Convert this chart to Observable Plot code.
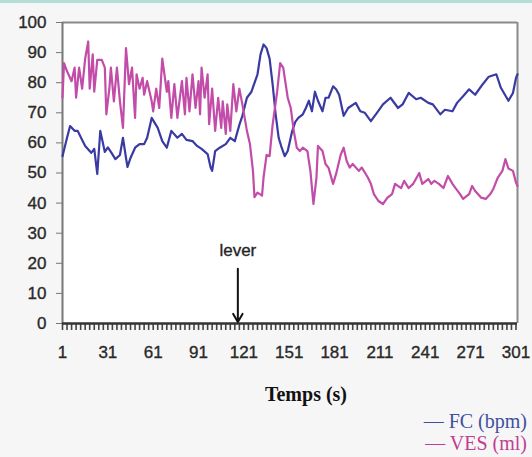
<!DOCTYPE html>
<html><head><meta charset="utf-8">
<script src="https://cdn.jsdelivr.net/npm/d3@7"></script>
<script src="https://cdn.jsdelivr.net/npm/@observablehq/plot@0.6"></script>
<style>
html,body{margin:0;padding:0;background:#f6f6f6;}
#wrap{position:relative;width:532px;height:457px;overflow:hidden;background:#f6f6f6;}
#topbar{position:absolute;left:0;top:0;width:532px;height:3px;background:#b3ded6;}
#xlabel{position:absolute;left:206px;width:200px;top:383px;text-align:center;font:bold 20px "Liberation Serif",serif;color:#111;}
.leg{position:absolute;right:5px;font:20px "Liberation Serif",serif;white-space:nowrap;line-height:22px;}
#chart svg text{stroke:currentColor;stroke-width:0.35px;}
</style></head><body>
<div id="wrap"><div id="chart"></div><div id="topbar"></div><div id="xlabel">Temps (s)</div>
<div class="leg" style="top:410px;color:#4050a0">— FC (bpm)</div>
<div class="leg" style="top:432px;color:#c23d93">— VES (ml)</div>
</div>
<script>
const fcTime = [1,4,6,9,11,14,16,20,22,24, 26,29,31,33,36,39,41,43,44,46, 49,52,55,57,60,64,67,70,73,77, 80,83,87,90,93,97,99,100,102,105, 109,112,115,118,120,123,126,130,132,134, 136,138,140,142,144,146,148,150,153,155, 157,160,162,164,166,168,170,173,175,177, 180,182,184,187,190,195,198,201,205,209, 213,218,223,226,230,235,238,243,246,251, 254,259,262,266,270,274,279,283,288,291, 296,299,301,302];
const fcValue = [55.6,61.7,65.6,64,64,61,59,56.7,58,49.7, 64,57,58.5,57,54.6,56,61.7,55,52,55, 58.4,59.6,59.6,61.7,68.3,65,60.6,58.4,64,61.7, 63,61,60.6,59,58,56.3,51.8,50.7,57.3,58.4, 59.6,61.7,60.6,66,69,75,77,82.8,89.4,92.7, 91.5,88,79.5,69.5,61.7,58.4,55.6,57.3,64,67, 68.3,69.5,71.6,74,70.5,77,74,70.5,75,75, 78.8,77.8,76,69,71.6,73.3,70.5,70,67.2,70, 72.8,75,71.6,72.8,76.6,74.5,75,73.3,72.8,69.5, 71,70.5,73.3,75.5,77.8,76,79.5,82,82.8,78.3, 74,76.6,81.6,82.8];
const vesTime = [1,2,4,7,9,10,12,14,16,18, 19,21,22,24,27,29,30,32,33,35, 37,39,41,43,45,47,49,50,52,54, 55,57,60,61,63,65,67,70,71,73, 75,77,80,82,83,85,87,89,91,92, 93,95,97,98,100,102,104,106,107,109, 110,112,114,116,118,120,123,125,127,128, 130,133,134,136,138,140,143,145,147,150, 152,154,156,158,160,163,165,167,169,170, 173,175,177,180,182,185,187,189,191,193, 197,199,203,205,207,210,213,216,219,221, 225,227,230,233,237,239,243,245,247,250, 253,256,259,261,264,266,270,272,274,278, 281,284,286,289,292,294,296,299,301,302];
const vesValue = [75,86.5,83.8,80.5,85,75,85,78,88,93.7, 78,89.4,77,87.6,87.6,85,69.5,78,85,73.8, 85,73.8,65,91.5,79.5,85,68.3,82.8,78,81.6, 76,80.5,73.8,70.5,78,71.6,88,77,80.5,68.3, 79.5,68.3,80.5,69.5,81.6,70.5,82.8,71.6,80.5,69.5, 85,75,82.8,66.2,78,64,75,65,73.8,63, 72.8,64,79.5,70.5,78,72.8,64,59.6,50.7,42, 43.5,42.5,48.5,56,55.6,66,77,86.5,85,75, 71.6,64,58.4,57.3,58.4,57.3,50.7,39.7,48.5,59, 57.3,53,51.7,46.4,49.7,56,58.4,54,51.8,53, 50.7,51.8,48.5,46.4,43,40.7,39.7,41.8,43,46.4, 45,47.4,45,46.4,50,46.4,48,46.4,47.4,46.4, 45,49,46.4,45,43,41.4,43,45.7,44,41.8, 41.4,43,44.7,48.5,50.7,54.6,51.5,50.7,46.8,45.7];
const yTicks = [0,10,20,30,40,50,60,70,80,90,100];
const xTickLabels = [1,31,61,91,121,151,181,211,241,271,301];
const leverEvent = [{t: 117, label: "lever"}];

const fc = fcTime.map((t, i) => ({t, v: fcValue[i]}));
const ves = vesTime.map((t, i) => ({t, v: vesValue[i]}));
const minorTicks = d3.range(1, 303, 3);

const chart = Plot.plot({
  width: 532, height: 372,
  marginLeft: 62, marginRight: 15, marginTop: 22, marginBottom: 49,
  style: {background: "transparent", fontFamily: "'Liberation Sans', Arial, sans-serif", fontSize: "17px", color: "#2a2a2a"},
  x: {domain: [1, 302], label: null},
  y: {domain: [0, 100], label: null},
  marks: [
    Plot.frame({fill: "white", stroke: null}),
    Plot.ruleY([100], {stroke: "#8a8a8a", strokeWidth: 2}),
    Plot.ruleX([302], {stroke: "#8a8a8a", strokeWidth: 2}),
    Plot.axisY({ticks: yTicks, tickSize: 6, tickPadding: 10, stroke: "#777", label: null}),
    Plot.axisX({ticks: minorTicks, tickSize: 7, tickFormat: () => "", stroke: "#444", strokeWidth: 1.6, label: null}),
    Plot.axisX({ticks: xTickLabels, tickSize: 0, tickPadding: 22, label: null}),
    Plot.ruleX([1], {stroke: "#777", strokeWidth: 2}),
    Plot.ruleY([0], {stroke: "#333", strokeWidth: 2.5}),
    Plot.line(fc, {x: "t", y: "v", stroke: "#3a3aa3", strokeWidth: 2.2}),
    Plot.line(ves, {x: "t", y: "v", stroke: "#c24ca8", strokeWidth: 2.2}),
    Plot.arrow(leverEvent, {x1: "t", x2: "t", y1: () => 18.2, y2: () => 0.5, stroke: "#111", strokeWidth: 2, headLength: 7}),
    Plot.text(leverEvent, {x: "t", y: () => 24.3, text: "label", fill: "#222", fontSize: 17})
  ]
});
document.getElementById("chart").appendChild(chart);
</script>
</body></html>
